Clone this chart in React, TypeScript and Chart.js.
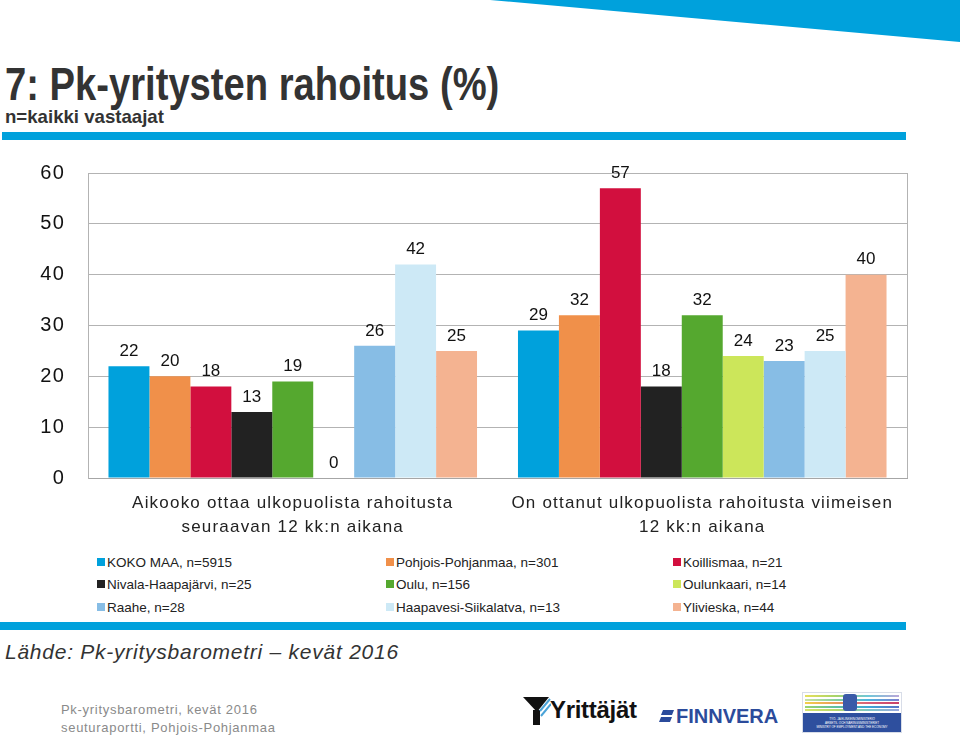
import React, { useEffect, useRef } from "react";
import { Chart, registerables } from "chart.js";

Chart.register(...registerables);

// ---------- data ----------
const categories: string[][] = [
  ["Aikooko ottaa ulkopuolista rahoitusta", "seuraavan 12 kk:n aikana"],
  ["On ottanut ulkopuolista rahoitusta viimeisen", "12 kk:n aikana"],
];
const seriesNames = [
  "KOKO MAA, n=5915",
  "Pohjois-Pohjanmaa, n=301",
  "Koillismaa, n=21",
  "Nivala-Haapajärvi, n=25",
  "Oulu, n=156",
  "Oulunkaari, n=14",
  "Raahe, n=28",
  "Haapavesi-Siikalatva, n=13",
  "Ylivieska, n=44",
];
const kokoMaa = [22, 29];
const pohjoisPohjanmaa = [20, 32];
const koillismaa = [18, 57];
const nivalaHaapajarvi = [13, 18];
const oulu = [19, 32];
const oulunkaari = [0, 24];
const raahe = [26, 23];
const haapavesiSiikalatva = [42, 25];
const ylivieska = [25, 40];
const seriesValues = [
  kokoMaa,
  pohjoisPohjanmaa,
  koillismaa,
  nivalaHaapajarvi,
  oulu,
  oulunkaari,
  raahe,
  haapavesiSiikalatva,
  ylivieska,
];
const seriesColors = [
  "#00a1dc",
  "#f0904a",
  "#d20f3e",
  "#222222",
  "#55a82f",
  "#cce65a",
  "#87bde5",
  "#cde9f6",
  "#f4b391",
];
const yMin = 0;
const yMax = 60;
const yStep = 10;

const FONT = "'Liberation Sans', Arial, Helvetica, sans-serif";

const spacing = {
  id: "spacing",
  beforeDraw(chart: any) {
    (chart.ctx as any).letterSpacing = "1.2px";
  },
  beforeDatasetsDraw(chart: any) {
    (chart.ctx as any).letterSpacing = "0px";
  },
};

const valueLabels = {
  id: "valueLabels",
  afterDatasetsDraw(chart: any) {
    const ctx = chart.ctx;
    ctx.save();
    ctx.letterSpacing = "0px";
    ctx.font = `17px ${FONT}`;
    ctx.fillStyle = "#111";
    ctx.textAlign = "center";
    ctx.textBaseline = "middle";
    chart.data.datasets.forEach((ds: any, i: number) => {
      const meta = chart.getDatasetMeta(i);
      meta.data.forEach((bar: any, j: number) => {
        ctx.fillText(String(ds.data[j]), bar.x, bar.y - 15);
      });
    });
    ctx.restore();
  },
};

const frame = {
  id: "frame",
  afterDraw(chart: any) {
    const { right, top, bottom } = chart.chartArea;
    const ctx = chart.ctx;
    ctx.save();
    ctx.strokeStyle = "#b3b3b3";
    ctx.lineWidth = 1;
    ctx.beginPath();
    ctx.moveTo(Math.round(right) + 0.5, top);
    ctx.lineTo(Math.round(right) + 0.5, bottom);
    ctx.stroke();
    ctx.restore();
  },
};

function ChartCanvas() {
  const ref = useRef<HTMLCanvasElement | null>(null);
  useEffect(() => {
    if (!ref.current) return;
    const chart = new Chart(ref.current, {
      type: "bar",
      data: {
        labels: categories as any,
        datasets: seriesNames.map((name, i) => ({
          label: name,
          data: seriesValues[i],
          backgroundColor: seriesColors[i],
          borderWidth: 0,
          categoryPercentage: 0.9,
          barPercentage: 1.0,
        })),
      },
      options: {
        responsive: false,
        animation: false,
        layout: { padding: { top: 23, right: 53, left: 0, bottom: 0 } },
        plugins: {
          legend: { display: false },
          tooltip: { enabled: false },
          title: { display: false },
        },
        scales: {
          x: {
            grid: { display: false, drawTicks: false },
            border: { display: true, color: "#a6a6a6" },
            ticks: {
              color: "#222",
              font: { family: FONT, size: 17, lineHeight: 1.38 },
              padding: 14,
              maxRotation: 0,
              autoSkip: false,
            },
            afterFit(scale: any) {
              scale.height = 72;
            },
          },
          y: {
            min: yMin,
            max: yMax,
            grid: { color: "#b3b3b3", drawTicks: false },
            border: { display: true, color: "#b3b3b3" },
            ticks: {
              stepSize: yStep,
              color: "#111",
              font: { family: FONT, size: 20 },
              padding: 23,
            },
            afterFit(scale: any) {
              scale.width = 88;
              scale.paddingTop = 0;
              scale.paddingBottom = 0;
            },
          },
        },
      },
      plugins: [spacing, valueLabels, frame],
    } as any);
    return () => chart.destroy();
  }, []);
  return (
    <canvas
      ref={ref}
      width={960}
      height={400}
      style={{ position: "absolute", left: 0, top: 150, width: 960, height: 400, display: "block" }}
    />
  );
}

function Legend() {
  const colX = [97, 386, 673];
  const rowY = [562, 584, 607];
  return (
    <>
      {seriesNames.map((name, i) => {
        const r = Math.floor(i / 3);
        const c = i % 3;
        return (
          <div
            key={name}
            style={{
              position: "absolute",
              left: colX[c],
              top: rowY[r] - 9,
              height: 18,
              display: "flex",
              alignItems: "center",
              fontFamily: FONT,
              fontSize: 13.5,
              color: "#222",
              whiteSpace: "nowrap",
            }}
          >
            <span
              style={{
                display: "inline-block",
                width: 8,
                height: 8,
                background: seriesColors[i],
                marginRight: 2,
              }}
            />
            {name}
          </div>
        );
      })}
    </>
  );
}

function Logos() {
  const stripeColors = [
    "linear-gradient(90deg,#e8e05a,#a6d36a,#6fc7d8,#b9a6d9)",
    "linear-gradient(90deg,#c9e2a0,#84cf9c,#4db6e0,#7b7fd0)",
    "linear-gradient(90deg,#f2d04a,#e89a5a,#d8607a,#c9406a)",
    "linear-gradient(90deg,#9ad36e,#5fbfa0,#40a8d8,#5a74c8)",
    "linear-gradient(90deg,#d6e36a,#b6d86a,#7cc6c4,#98a6e0)",
  ];
  return (
    <>
      {/* Yrittäjät */}
      <svg style={{ position: "absolute", left: 523, top: 697 }} width={28} height={29}>
        <polygon points="0,0 26,0 14,15" fill="#111" />
        <rect x={10} y={13} width={7} height={15} fill="#111" />
        <line x1={17} y1={14} x2={27} y2={2} stroke="#4aa3d8" strokeWidth={2} />
        <line x1={18} y1={19} x2={28} y2={7} stroke="#4aa3d8" strokeWidth={2} />
      </svg>
      <div
        style={{
          position: "absolute",
          left: 550,
          top: 695,
          fontFamily: FONT,
          fontWeight: 700,
          fontSize: 24,
          lineHeight: "30px",
          color: "#111",
          letterSpacing: -0.3,
        }}
      >
        Yrittäjät
      </div>
      {/* Finnvera */}
      <svg style={{ position: "absolute", left: 659, top: 709 }} width={16} height={15}>
        <polygon points="4,1 15,1 13,6 2,6" fill="#2b4b9b" />
        <polygon points="2,8 13,8 11,13 0,13" fill="#2b4b9b" />
      </svg>
      <div
        style={{
          position: "absolute",
          left: 676,
          top: 703,
          fontFamily: FONT,
          fontWeight: 700,
          fontSize: 20,
          lineHeight: "26px",
          color: "#2b4b9b",
        }}
      >
        FINNVERA
      </div>
      {/* Ministry */}
      <div
        style={{
          position: "absolute",
          left: 802,
          top: 692,
          width: 100,
          height: 41,
          background: "#fff",
          border: "1px solid #d8dde8",
          boxSizing: "border-box",
          overflow: "hidden",
        }}
      >
        {stripeColors.map((g, i) => (
          <div
            key={i}
            style={{ position: "absolute", left: 2, right: 2, top: 2 + i * 3.5, height: 2, background: g }}
          />
        ))}
        <div
          style={{
            position: "absolute",
            left: 40,
            top: 1,
            width: 14,
            height: 17,
            borderRadius: 3,
            background: "#3a5aa8",
          }}
        />
        <div
          style={{
            position: "absolute",
            left: 0,
            right: 0,
            top: 20,
            bottom: 0,
            background: "#2e4f9e",
            color: "#fff",
            fontFamily: FONT,
            fontSize: 3,
            lineHeight: "4px",
            textAlign: "center",
            paddingTop: 4,
          }}
        >
          <div>TYÖ- JA ELINKEINOMINISTERIÖ</div>
          <div>ARBETS- OCH NÄRINGSMINISTERIET</div>
          <div>MINISTRY OF EMPLOYMENT AND THE ECONOMY</div>
        </div>
      </div>
    </>
  );
}

export default function App() {
  return (
    <div
      style={{
        position: "absolute",
        left: 0,
        top: 0,
        width: 960,
        height: 738,
        overflow: "hidden",
        background: "#fff",
      }}
    >
      <svg style={{ position: "absolute", left: 0, top: 0 }} width={960} height={50}>
        <polygon points="490,0 960,0 960,42" fill="#00a1dc" />
      </svg>
      <div
        style={{
          position: "absolute",
          left: 5,
          top: 58,
          fontFamily: FONT,
          fontWeight: 700,
          fontSize: 46,
          lineHeight: "52px",
          color: "#333",
          whiteSpace: "nowrap",
          transform: "scaleX(0.83)",
          transformOrigin: "left top",
        }}
      >
        7: Pk-yritysten rahoitus (%)
      </div>
      <div
        style={{
          position: "absolute",
          left: 5,
          top: 106,
          fontFamily: FONT,
          fontWeight: 700,
          fontSize: 19,
          lineHeight: "22px",
          color: "#333",
          whiteSpace: "nowrap",
          transform: "scaleX(0.98)",
          transformOrigin: "left top",
        }}
      >
        n=kaikki vastaajat
      </div>
      <div style={{ position: "absolute", left: 2, top: 132, width: 904, height: 8, background: "#00a1dc" }} />
      <ChartCanvas />
      <Legend />
      <div style={{ position: "absolute", left: 0, top: 622, width: 906, height: 8, background: "#00a1dc" }} />
      <div
        style={{
          position: "absolute",
          left: 5,
          top: 639,
          fontFamily: FONT,
          fontStyle: "italic",
          fontSize: 21,
          lineHeight: "26px",
          letterSpacing: 0.75,
          color: "#333",
          whiteSpace: "nowrap",
        }}
      >
        Lähde: Pk-yritysbarometri – kevät 2016
      </div>
      <div
        style={{
          position: "absolute",
          left: 61,
          top: 701,
          fontFamily: FONT,
          fontSize: 13,
          lineHeight: "18px",
          letterSpacing: 0.7,
          color: "#8a8a8a",
          whiteSpace: "nowrap",
        }}
      >
        <div>Pk-yritysbarometri, kevät 2016</div>
        <div>seuturaportti, Pohjois-Pohjanmaa</div>
      </div>
      <Logos />
    </div>
  );
}
